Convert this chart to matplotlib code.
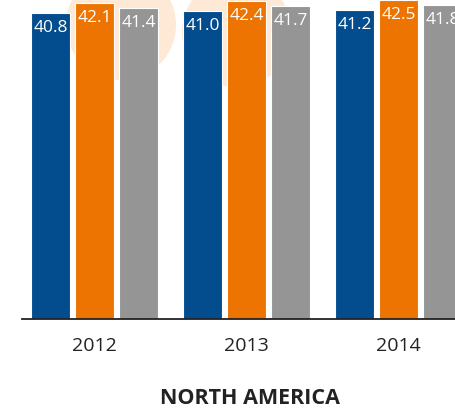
import matplotlib
matplotlib.use('Agg')
from matplotlib import pyplot as plt
from matplotlib.patches import Circle
import numpy as np


# values
years = ['2012', '2013', '2014']
blue_vals = [40.8, 41.0, 41.2]
orange_vals = [42.1, 42.4, 42.5]
gray_vals = [41.4, 41.7, 41.8]
region = 'NORTH AMERICA'

colors = ['#034c8e', '#ee7402', '#959595']

plt.rcParams['font.family'] = ['Open Sans', 'DejaVu Sans']

fig = plt.figure(figsize=(4.55, 4.11), dpi=100)
ax = fig.add_axes([22 / 455, 92 / 411, 433 / 455, 319 / 411])
ax.patch.set_alpha(0)

# faint decorative circles in the background (figure inches)
for cx, cy in [(1.21, 4.11 - 0.25), (2.37, 4.11 - 0.32)]:
    fig.add_artist(Circle((cx, cy), 0.55, transform=fig.dpi_scale_trans,
                          facecolor='#fde9d5', edgecolor='none', zorder=-1))

x = np.arange(len(years))
width = 0.257
step = 0.29

for i, vals in enumerate([blue_vals, orange_vals, gray_vals]):
    pos = x + (i - 1) * step
    ax.bar(pos, vals, width=width, color=colors[i], edgecolor='white', linewidth=0.8, zorder=2)
    for p, v in zip(pos, vals):
        ax.text(p, v - 1.95, f'{v:.1f}', ha='center', va='center', color='white',
                fontsize=12.5, zorder=3, clip_on=True)

ax.set_xlim(-0.477, 2.372)
ax.set_ylim(0, 42.53)

for s in ['top', 'right', 'left']:
    ax.spines[s].set_visible(False)
ax.spines['bottom'].set_color('#222222')
ax.spines['bottom'].set_linewidth(1.3)

ax.set_yticks([])
ax.set_xticks(x)
ax.set_xticklabels(years, fontsize=14, color='#222222')
ax.tick_params(axis='x', length=0, pad=13)

fig.text(250 / 455, 1 - 398 / 411, region, ha='center', va='center', fontsize=15.5,
         fontweight='bold', color='#222222')

fig.savefig('out.png', dpi=100)
